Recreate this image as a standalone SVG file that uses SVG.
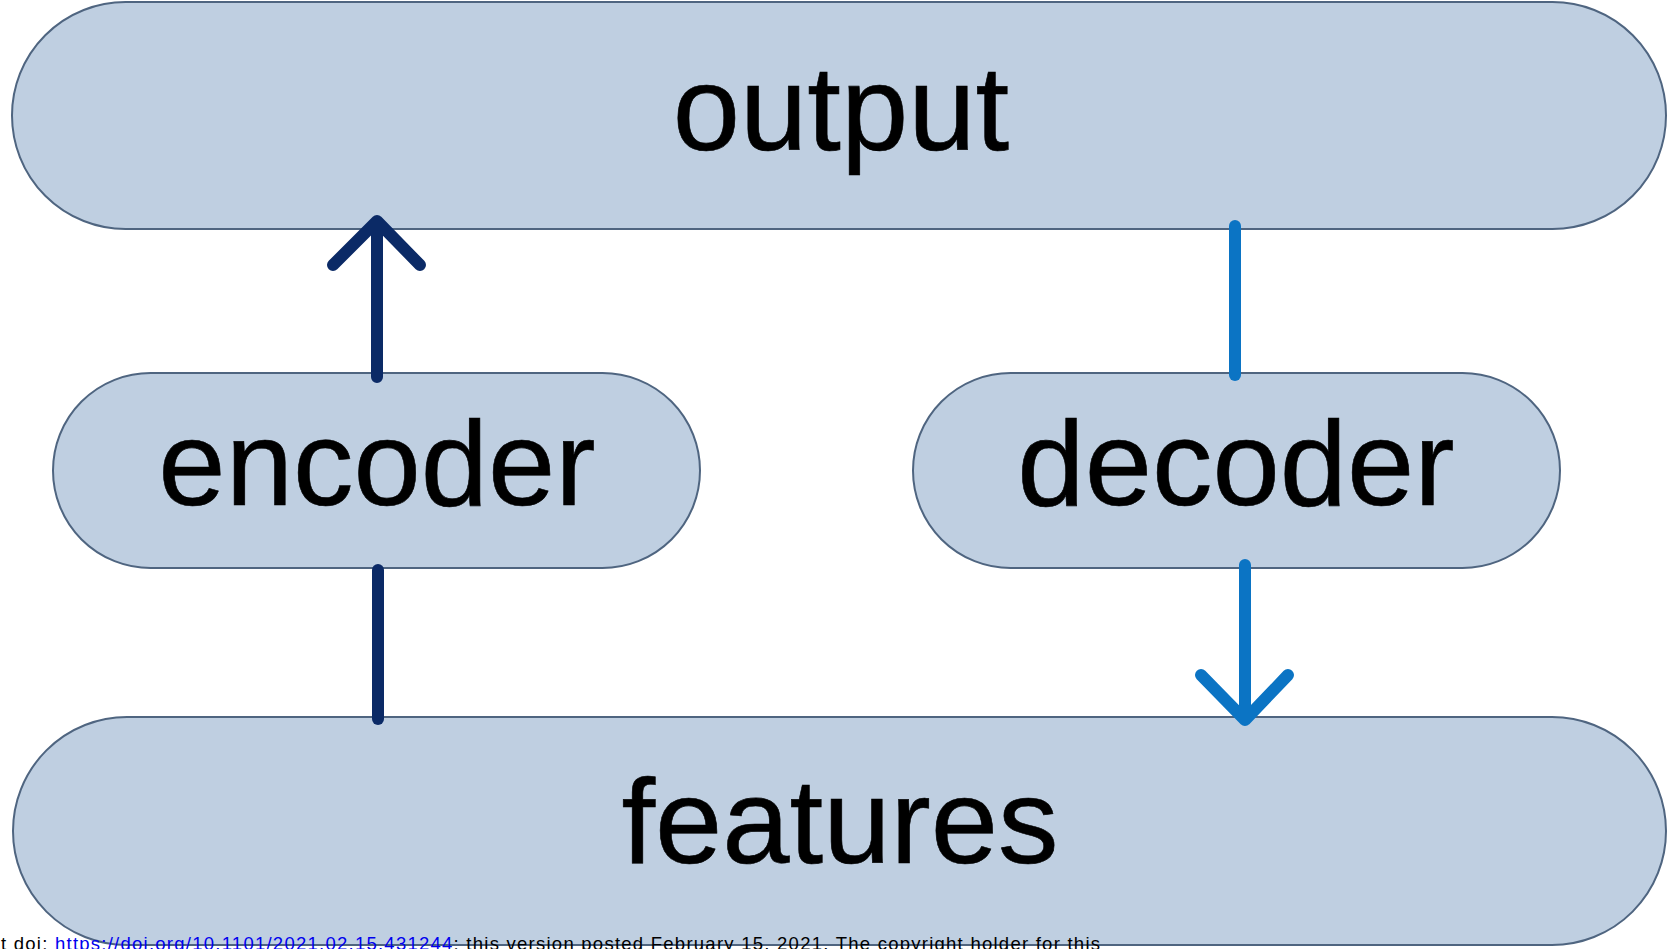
<svg xmlns="http://www.w3.org/2000/svg" width="1667" height="949" viewBox="0 0 1667 949">
<style>
.node{fill:#bfcfe1;stroke:#4f6580;stroke-width:2}
.lbl{font-family:"Liberation Sans",Arial,sans-serif;font-size:121px;fill:#000;stroke:#000;stroke-width:0.6;text-anchor:middle}
.dark{stroke:#0b2a66;stroke-width:12;stroke-linecap:round;stroke-linejoin:round;fill:none}
.light{stroke:#0b74c4;stroke-width:12;stroke-linecap:round;stroke-linejoin:round;fill:none}
.foot{font-family:"Liberation Sans",Arial,sans-serif;font-size:18.5px;fill:#000}
</style>
<rect width="1667" height="949" fill="#fff"/>
<g id="output">
<rect class="node" x="12" y="2" width="1654" height="227" rx="113.5"/>
<text class="lbl" x="841" y="150">output</text>
</g>
<g id="encoder">
<rect class="node" x="53" y="373" width="647" height="195" rx="97.5"/>
<text class="lbl" x="377" y="505">encoder</text>
</g>
<g id="decoder">
<rect class="node" x="913" y="373" width="647" height="195" rx="97.5"/>
<text class="lbl" x="1236" y="505">decoder</text>
</g>
<g id="features">
<rect class="node" x="13" y="717" width="1653" height="228" rx="114"/>
<text class="lbl" x="840" y="863">features</text>
</g>
<g id="connectors">
<path class="dark" d="M377,377 V222 M333,265 L377,221 L420,265"/>
<path class="dark" d="M378,570 V719"/>
<path class="light" d="M1235,226 V375"/>
<path class="light" d="M1245,565 V720 M1201,675 L1245,720 L1288,675"/>
</g>
<g id="footer">
<text class="foot" x="1" y="950" textLength="1099" lengthAdjust="spacing">t doi: <tspan fill="#0000ee">https://doi.org/10.1101/2021.02.15.431244</tspan>; this version posted February 15, 2021. The copyright holder for this</text>
</g>
</svg>
